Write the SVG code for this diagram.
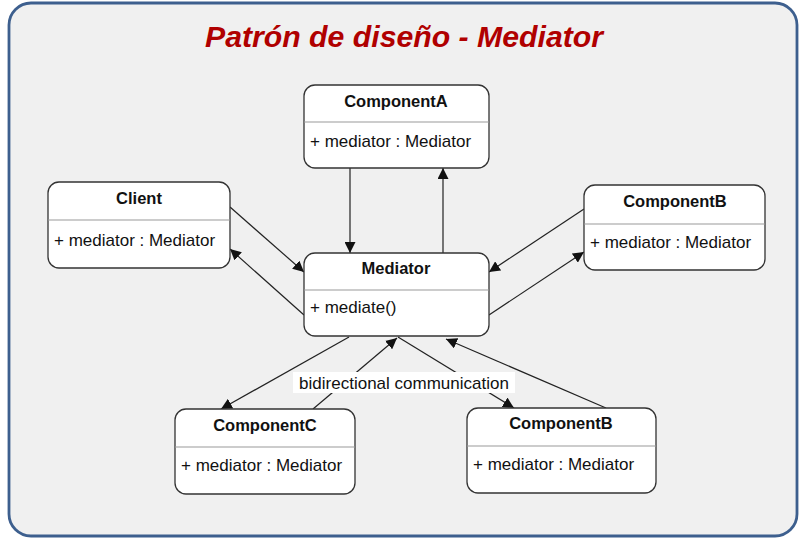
<svg xmlns="http://www.w3.org/2000/svg" width="806" height="547" viewBox="0 0 806 547">
<style>
.box{fill:#fff;stroke:#333;stroke-width:1.3}
.div{stroke:#999;stroke-width:1}
.t{font-family:"Liberation Sans",Arial,sans-serif;font-size:16.5px;font-weight:bold;fill:#111;text-anchor:middle}
.a{font-family:"Liberation Sans",Arial,sans-serif;font-size:17px;fill:#111}
.c{stroke:#222;stroke-width:1.2;fill:none;marker-end:url(#ah)}
</style>
<defs>
<marker id="ah" viewBox="0 0 10 10" refX="10" refY="5" markerWidth="11" markerHeight="11" markerUnits="userSpaceOnUse" orient="auto">
<path d="M0,0 L10,5 L0,10 z" fill="#111"/>
</marker>
</defs>
<rect x="0" y="0" width="806" height="547" fill="#fff"/>
<rect x="9" y="3" width="788" height="533" rx="22" fill="#f0f0f0" stroke="#3d5f8e" stroke-width="2.8"/>
<text x="404" y="47" text-anchor="middle" font-family="'Liberation Sans',Arial,sans-serif" font-size="29" font-weight="bold" font-style="italic" fill="#b00000" textLength="398" lengthAdjust="spacingAndGlyphs">Patrón de diseño - Mediator</text>

<g id="connectors">
<line class="c" x1="350" y1="168" x2="350" y2="253"/>
<line class="c" x1="443" y1="253" x2="443" y2="168"/>
<line class="c" x1="230" y1="207" x2="304" y2="272"/>
<line class="c" x1="304" y1="315" x2="230" y2="249"/>
<line class="c" x1="584" y1="209" x2="489" y2="272"/>
<line class="c" x1="489" y1="315" x2="584" y2="252"/>
<line class="c" x1="349" y1="337" x2="221" y2="409"/>
<line class="c" x1="313" y1="409" x2="397" y2="338"/>
<line class="c" x1="398" y1="337" x2="514" y2="408"/>
<line class="c" x1="606" y1="408" x2="446" y2="339"/>
<rect x="293" y="372" width="222" height="21" fill="#fff"/>
<text class="a" x="404" y="389" text-anchor="middle">bidirectional communication</text>
</g>

<g id="componentA">
<rect class="box" x="304" y="85" width="185" height="83" rx="11"/>
<line class="div" x1="304" y1="122" x2="489" y2="122"/>
<text class="t" x="396" y="107">ComponentA</text>
<text class="a" x="310" y="147">+ mediator : Mediator</text>
</g>
<g id="client">
<rect class="box" x="48" y="182" width="182" height="86" rx="11"/>
<line class="div" x1="48" y1="220" x2="230" y2="220"/>
<text class="t" x="139" y="204">Client</text>
<text class="a" x="54" y="246">+ mediator : Mediator</text>
</g>
<g id="componentB1">
<rect class="box" x="584" y="185" width="181" height="85" rx="11"/>
<line class="div" x1="584" y1="224" x2="765" y2="224"/>
<text class="t" x="675" y="207">ComponentB</text>
<text class="a" x="590" y="248">+ mediator : Mediator</text>
</g>
<g id="mediator">
<rect class="box" x="304" y="253" width="185" height="83" rx="11"/>
<line class="div" x1="304" y1="290" x2="489" y2="290"/>
<text class="t" x="396" y="274">Mediator</text>
<text class="a" x="310" y="313">+ mediate()</text>
</g>
<g id="componentC">
<rect class="box" x="175" y="409" width="180" height="85" rx="11"/>
<line class="div" x1="175" y1="447" x2="355" y2="447"/>
<text class="t" x="265" y="431">ComponentC</text>
<text class="a" x="181" y="471">+ mediator : Mediator</text>
</g>
<g id="componentB2">
<rect class="box" x="467" y="408" width="189" height="85" rx="11"/>
<line class="div" x1="467" y1="446" x2="656" y2="446"/>
<text class="t" x="561" y="429">ComponentB</text>
<text class="a" x="473" y="470">+ mediator : Mediator</text>
</g>
</svg>
